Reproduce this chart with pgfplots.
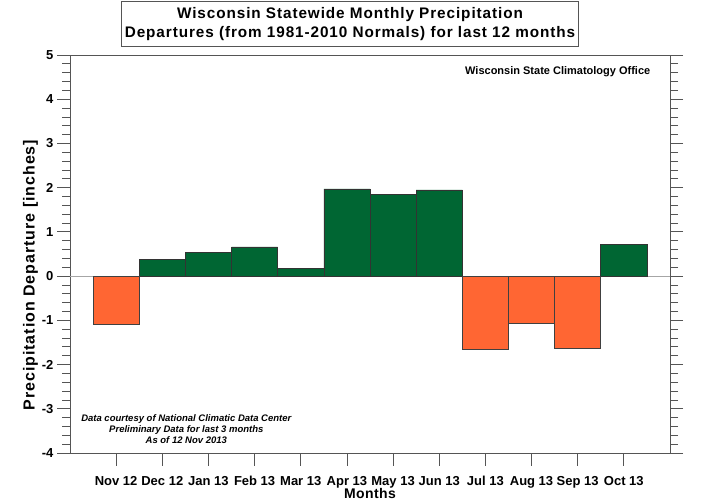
\documentclass[border=0pt]{standalone}
\usepackage{pgfplots}
\pgfplotsset{compat=1.18}
\usepackage{fontspec}
\setmainfont{Liberation Sans}
\definecolor{wgreen}{HTML}{006633}
\definecolor{worange}{HTML}{FF6633}
\definecolor{frame}{HTML}{555555}
\begin{document}
\begin{tikzpicture}[x=1pt,y=1pt]
\path[use as bounding box] (-70,-49) rectangle (632,453);
\begin{axis}[
  at={(0,0)}, anchor=south west,
  scale only axis, width=600pt, height=398pt,
  xmin=0, xmax=13, ymin=-4, ymax=5,
  xtick={1,...,12},
  xticklabels={Nov 12,Dec 12,Jan 13,Feb 13,Mar 13,Apr 13,May 13,Jun 13,Jul 13,Aug 13,Sep 13,Oct 13},
  ytick={-4,...,5},
  minor y tick num=4,
  tick align=outside,
  major tick length=13pt, minor tick length=8pt,
  xtick pos=bottom, ytick pos=both,
  tick style={frame, line width=0.8pt},
  axis line style={frame, line width=0.8pt},
  /pgf/number format/assume math mode=true,
  ticklabel style={font=\fontsize{13}{15}\selectfont\bfseries},
  yticklabel style={xshift=0pt},
  xticklabel style={yshift=-6.5pt},
  ylabel={Precipitation Departure [inches]},
  xlabel={Months},
  label style={font=\fontsize{16}{17}\selectfont\bfseries\addfontfeature{LetterSpace=6}},
  ylabel style={at={(ticklabel cs:0.447)}, yshift=-16pt},
  xlabel style={yshift=6pt, font=\fontsize{14}{15}\selectfont\bfseries\addfontfeature{LetterSpace=3}},
  extra y ticks={0}, extra y tick labels={},
  extra y tick style={grid=major, major grid style={gray!70, line width=0.8pt}, major tick length=0pt},
  clip=false,
]
\addplot[ybar, bar width=1, bar shift=0, fill=wgreen, draw=black!80, line width=0.6pt]
  coordinates {(2,0.38) (3,0.54) (4,0.66) (5,0.17) (6,1.97) (7,1.85) (8,1.95) (12,0.71)};
\addplot[ybar, bar width=1, bar shift=0, fill=worange, draw=black!75, line width=0.6pt]
  coordinates {(1,-1.08) (9,-1.65) (10,-1.07) (11,-1.64)};
\node[anchor=north east, font=\fontsize{11}{13}\selectfont\bfseries] at (rel axis cs:0.973,0.98) {Wisconsin State Climatology Office};
\node[align=center, font=\fontsize{9.5}{11}\selectfont\bfseries\itshape] at (axis cs:2.52,-3.46) {Data courtesy of National Climatic Data Center\\Preliminary Data for last 3 months\\As of 12 Nov 2013};
\end{axis}
\node[draw=frame, line width=0.8pt, fill=white, align=center, inner sep=2pt, minimum width=457pt, minimum height=45pt, font=\fontsize{15.3}{18.5}\selectfont\bfseries\addfontfeature{LetterSpace=6}] at (280,429) {Wisconsin Statewide Monthly Precipitation\\Departures (from 1981-2010 Normals) for last 12 months};
\end{tikzpicture}
\end{document}
